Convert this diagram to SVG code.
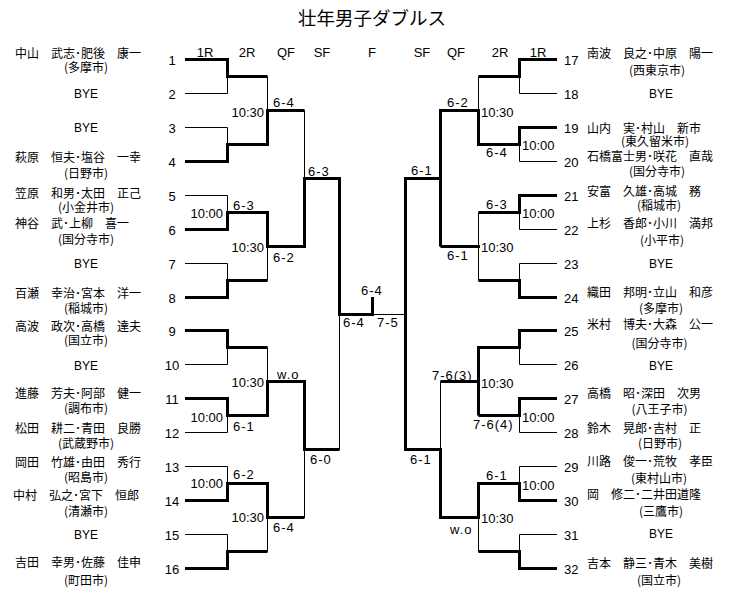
<svg xmlns="http://www.w3.org/2000/svg" width="745" height="600" viewBox="0 0 745 600">
<style>
.thin{stroke:#000;stroke-width:1;fill:none}
.thick{stroke:#000;stroke-width:3;fill:none;stroke-linejoin:miter}
text{fill:#000;dominant-baseline:central}
.jp{font-family:"Noto Sans CJK JP","Noto Sans CJK SC",sans-serif;font-size:12px}
.city{font-family:"Noto Sans CJK JP","Noto Sans CJK SC",sans-serif;font-size:12px;text-anchor:middle}
.bye{font-family:"Liberation Sans",Arial,sans-serif;font-size:12px;text-anchor:middle}
.num{font-family:"Liberation Sans",Arial,sans-serif;font-size:13px}
.nl{text-anchor:middle}
.sc{font-family:"Liberation Sans",Arial,sans-serif;font-size:13px;letter-spacing:1px}
.tm{font-family:"Liberation Sans",Arial,sans-serif;font-size:13px}
.hd{font-family:"Liberation Sans",Arial,sans-serif;font-size:13px;text-anchor:middle}
.end{text-anchor:end}
.wo{dominant-baseline:auto}
</style>
<rect width="745" height="600" fill="#fff"/>
<text x="372" y="17" font-family="Noto Sans CJK JP, Noto Sans CJK SC, sans-serif" font-size="18.5" text-anchor="middle">壮年男子ダブルス</text>
<g id="headers">
<text class="hd" x="205" y="52">1R</text>
<text class="hd" x="247" y="52">2R</text>
<text class="hd" x="286" y="52">QF</text>
<text class="hd" x="322" y="52">SF</text>
<text class="hd" x="372" y="52">F</text>
<text class="hd" x="422" y="52">SF</text>
<text class="hd" x="456" y="52">QF</text>
<text class="hd" x="500" y="52">2R</text>
<text class="hd" x="538" y="52">1R</text>
</g>
<g id="connectors">
<path class="thin" d="M185,59.5H227.5V93.5H185M185,127.5H227.5V161.5H185M185,195.5H227.5V229.5H185M185,263.5H227.5V297.5H185M185,330.5H227.5V364.5H185M185,398.5H227.5V432.5H185M185,466.5H227.5V500.5H185M185,534.5H227.5V568.5H185
M227.5,76.5H267.5M227.5,144.5H267.5M227.5,212.5H267.5M227.5,280.5H267.5M227.5,347.5H267.5M227.5,415.5H267.5M227.5,483.5H267.5M227.5,551.5H267.5
M267.5,76.5V144.5M267.5,212.5V280.5M267.5,347.5V415.5M267.5,483.5V551.5
M267.5,110.5H304.5M267.5,246.5H304.5M267.5,381.5H304.5M267.5,517.5H304.5
M304.5,110.5V246.5M304.5,381.5V517.5M304.5,178.5H339.5M304.5,449.5H339.5
M339.5,178.5V449.5M339.5,314.5H405.5M372.5,314.5V297"/>
<path class="thin" d="M557,59.5H519.5V93.5H557M557,127.5H519.5V161.5H557M557,195.5H519.5V229.5H557M557,263.5H519.5V297.5H557M557,330.5H519.5V364.5H557M557,398.5H519.5V432.5H557M557,466.5H519.5V500.5H557M557,534.5H519.5V568.5H557
M519.5,76.5H478.5M519.5,144.5H478.5M519.5,212.5H478.5M519.5,280.5H478.5M519.5,347.5H478.5M519.5,415.5H478.5M519.5,483.5H478.5M519.5,551.5H478.5
M478.5,76.5V144.5M478.5,212.5V280.5M478.5,347.5V415.5M478.5,483.5V551.5
M478.5,110.5H440.5M478.5,246.5H440.5M478.5,381.5H440.5M478.5,517.5H440.5
M440.5,110.5V246.5M440.5,381.5V517.5M440.5,178.5H405.5M440.5,449.5H405.5
M405.5,178.5V449.5"/>
<path class="thick" d="M185,59.5H227.5V76.5H267.5"/>
<path class="thick" d="M185,161.5H227.5V144.5H267.5V110.5H304.5"/>
<path class="thick" d="M185,229.5H227.5V212.5H267.5V246.5H304.5V178.5H339.5V314.5H372.5V297"/>
<path class="thick" d="M185,297.5H227.5V280.5H267.5"/>
<path class="thick" d="M185,330.5H227.5V347.5H267.5"/>
<path class="thick" d="M185,398.5H227.5V415.5H267.5V381.5H304.5V449.5H339.5"/>
<path class="thick" d="M185,500.5H227.5V483.5H267.5V517.5H304.5"/>
<path class="thick" d="M185,568.5H227.5V551.5H267.5"/>
<path class="thick" d="M557,59.5H519.5V76.5H478.5"/>
<path class="thick" d="M557,127.5H519.5V144.5H478.5V110.5H440.5V246.5"/>
<path class="thick" d="M440.5,178.5H405.5V449.5H440.5V517.5H478.5V483.5H519.5V500.5H557"/>
<path class="thick" d="M557,195.5H519.5V212.5H478.5"/>
<path class="thick" d="M480,246.5H440.5"/>
<path class="thick" d="M557,297.5H519.5V280.5H478.5"/>
<path class="thick" d="M557,330.5H519.5V347.5H478.5V415.5"/>
<path class="thick" d="M478.5,381.5H440.5"/>
<path class="thick" d="M557,398.5H519.5V415.5H478.5"/>
<path class="thick" d="M557,568.5H519.5V551.5H478.5"/>
</g>
<g id="scores">
<text class="tm end" x="264" y="112">10:30</text>
<text class="sc" x="273" y="102.5">6-4</text>
<text class="sc" x="308" y="171">6-3</text>
<text class="tm end" x="223" y="213">10:00</text>
<text class="sc" x="233" y="205">6-3</text>
<text class="tm end" x="264" y="247">10:30</text>
<text class="sc" x="273" y="257">6-2</text>
<text class="sc wo" x="277" y="379">w.o</text>
<text class="tm end" x="264" y="382">10:30</text>
<text class="tm end" x="223" y="417">10:00</text>
<text class="sc" x="233" y="426">6-1</text>
<text class="sc" x="310" y="459">6-0</text>
<text class="tm end" x="223" y="483">10:00</text>
<text class="sc" x="233" y="474">6-2</text>
<text class="tm end" x="264" y="517">10:30</text>
<text class="sc" x="273" y="527">6-4</text>
<text class="sc" x="361" y="290">6-4</text>
<text class="sc" x="343" y="322.5">6-4</text>
<text class="sc" x="377" y="322.5">7-5</text>
<text class="sc" x="447" y="102.5">6-2</text>
<text class="tm" x="481" y="112">10:30</text>
<text class="sc" x="486" y="152">6-4</text>
<text class="tm" x="522" y="145">10:00</text>
<text class="sc" x="411" y="170">6-1</text>
<text class="sc" x="486" y="204">6-3</text>
<text class="tm" x="522" y="213">10:00</text>
<text class="tm" x="481" y="247">10:30</text>
<text class="sc" x="447" y="255">6-1</text>
<text class="sc" x="432" y="375">7-6(3)</text>
<text class="tm" x="481" y="383">10:30</text>
<text class="sc" x="473" y="424">7-6(4)</text>
<text class="tm" x="522" y="417">10:00</text>
<text class="sc" x="410" y="459">6-1</text>
<text class="sc" x="486" y="475">6-1</text>
<text class="tm" x="522" y="485">10:00</text>
<text class="tm" x="481" y="518">10:30</text>
<text class="sc wo" x="450" y="534">w.o</text>
</g>
<g id="p1"><text class="num nl" x="172" y="60.5">1</text><text class="jp" x="15" y="52">中山　武志･肥後　康一</text><text class="city" x="86" y="66">(多摩市)</text></g>
<g id="p2"><text class="num nl" x="172" y="94.5">2</text><text class="bye" x="86" y="94">BYE</text></g>
<g id="p3"><text class="num nl" x="172" y="128.5">3</text><text class="bye" x="86" y="128">BYE</text></g>
<g id="p4"><text class="num nl" x="172" y="162.5">4</text><text class="jp" x="15" y="156">萩原　恒夫･塩谷　一幸</text><text class="city" x="86" y="172">(日野市)</text></g>
<g id="p5"><text class="num nl" x="172" y="196.5">5</text><text class="jp" x="15" y="192.5">笠原　和男･太田　正己</text><text class="city" x="86" y="206">(小金井市)</text></g>
<g id="p6"><text class="num nl" x="172" y="230.5">6</text><text class="jp" x="15" y="222">神谷　武･上柳　喜一</text><text class="city" x="86" y="238">(国分寺市)</text></g>
<g id="p7"><text class="num nl" x="172" y="264.5">7</text><text class="bye" x="86" y="264">BYE</text></g>
<g id="p8"><text class="num nl" x="172" y="298.5">8</text><text class="jp" x="15" y="292">百瀬　幸治･宮本　洋一</text><text class="city" x="86" y="307">(稲城市)</text></g>
<g id="p9"><text class="num nl" x="172" y="331.5">9</text><text class="jp" x="15" y="325">高波　政次･高橋　達夫</text><text class="city" x="86" y="339">(国立市)</text></g>
<g id="p10"><text class="num nl" x="172" y="365.5">10</text><text class="bye" x="86" y="366">BYE</text></g>
<g id="p11"><text class="num nl" x="172" y="399.5">11</text><text class="jp" x="15" y="392">進藤　芳夫･阿部　健一</text><text class="city" x="86" y="407.5">(調布市)</text></g>
<g id="p12"><text class="num nl" x="172" y="433.5">12</text><text class="jp" x="15" y="427">松田　耕二･青田　良勝</text><text class="city" x="86" y="442">(武蔵野市)</text></g>
<g id="p13"><text class="num nl" x="172" y="467.5">13</text><text class="jp" x="15" y="461">岡田　竹雄･由田　秀行</text><text class="city" x="86" y="476">(昭島市)</text></g>
<g id="p14"><text class="num nl" x="172" y="501.5">14</text><text class="jp" x="13" y="494.5">中村　弘之･宮下　恒郎</text><text class="city" x="86" y="510">(清瀬市)</text></g>
<g id="p15"><text class="num nl" x="172" y="535.5">15</text><text class="bye" x="86" y="535">BYE</text></g>
<g id="p16"><text class="num nl" x="172" y="569.5">16</text><text class="jp" x="15" y="561.5">吉田　幸男･佐藤　佳申</text><text class="city" x="86" y="579">(町田市)</text></g>
<g id="p17"><text class="num" x="564" y="60">17</text><text class="jp" x="587" y="52">南波　良之･中原　陽一</text><text class="city" x="657" y="69">(西東京市)</text></g>
<g id="p18"><text class="num" x="564" y="94">18</text><text class="bye" x="661" y="94">BYE</text></g>
<g id="p19"><text class="num" x="564" y="128">19</text><text class="jp" x="587" y="127">山内　実･村山　新市</text><text class="city" x="655" y="140.5">(東久留米市)</text></g>
<g id="p20"><text class="num" x="564" y="162">20</text><text class="jp" x="587" y="155.5">石橋富士男･咲花　直哉</text><text class="city" x="657" y="170.5">(国分寺市)</text></g>
<g id="p21"><text class="num" x="564" y="196">21</text><text class="jp" x="587" y="190">安富　久雄･高城　務</text><text class="city" x="659" y="204">(稲城市)</text></g>
<g id="p22"><text class="num" x="564" y="230">22</text><text class="jp" x="587" y="222.5">上杉　香郎･小川　満邦</text><text class="city" x="662" y="239">(小平市)</text></g>
<g id="p23"><text class="num" x="564" y="264">23</text><text class="bye" x="661" y="264">BYE</text></g>
<g id="p24"><text class="num" x="564" y="298">24</text><text class="jp" x="587" y="291">織田　邦明･立山　和彦</text><text class="city" x="661" y="307">(多摩市)</text></g>
<g id="p25"><text class="num" x="564" y="331">25</text><text class="jp" x="587" y="323">米村　博夫･大森　公一</text><text class="city" x="659.5" y="342">(国分寺市)</text></g>
<g id="p26"><text class="num" x="564" y="365">26</text><text class="bye" x="661" y="366">BYE</text></g>
<g id="p27"><text class="num" x="564" y="399">27</text><text class="jp" x="587" y="392">高橋　昭･深田　次男</text><text class="city" x="659.5" y="408">(八王子市)</text></g>
<g id="p28"><text class="num" x="564" y="433">28</text><text class="jp" x="587" y="427">鈴木　晃郎･吉村　正</text><text class="city" x="660" y="442">(日野市)</text></g>
<g id="p29"><text class="num" x="564" y="467">29</text><text class="jp" x="587" y="460">川路　俊一･荒牧　孝臣</text><text class="city" x="659" y="477">(東村山市)</text></g>
<g id="p30"><text class="num" x="564" y="501">30</text><text class="jp" x="587" y="493">岡　修二･二井田道隆</text><text class="city" x="661" y="510">(三鷹市)</text></g>
<g id="p31"><text class="num" x="564" y="535">31</text><text class="bye" x="661" y="534">BYE</text></g>
<g id="p32"><text class="num" x="564" y="569">32</text><text class="jp" x="587" y="562">吉本　静三･青木　美樹</text><text class="city" x="659" y="579">(国立市)</text></g>
</svg>
